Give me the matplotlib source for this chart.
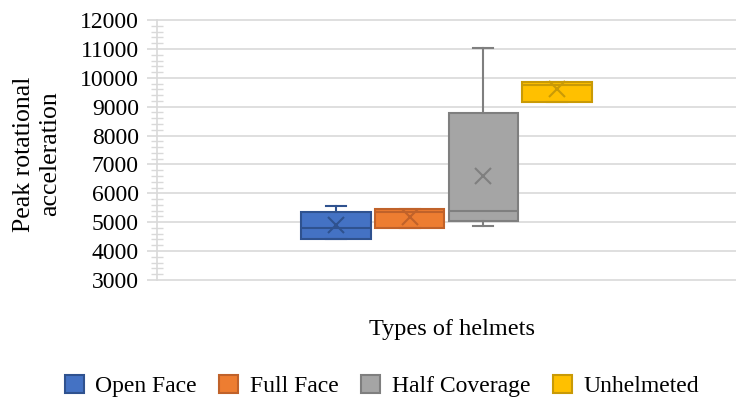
import matplotlib
matplotlib.use("Agg")
import matplotlib.pyplot as plt
from matplotlib.patches import Patch
from matplotlib.ticker import MultipleLocator

plt.rcParams["font.family"] = ["Liberation Serif", "DejaVu Serif"]

# summary statistics per helmet type
helmets = ["Open Face", "Full Face", "Half Coverage", "Unhelmeted"]
q1 = [4420, 4800, 5055, 9165]
medians = [4810, 5355, 5390, 9750]
q3 = [5365, 5470, 8770, 9845]
whisker_low = [4410, 4800, 4870, 9165]
whisker_high = [5565, 5470, 11030, 9845]
means = [4895, 5195, 6610, 9600]

face_colors = ["#4472C4", "#ED7D31", "#A5A5A5", "#FFC000"]
edge_colors = ["#2F528F", "#C0622A", "#7F7F7F", "#C99A06"]

fig = plt.figure(figsize=(7.36, 4), dpi=100)
ax = fig.add_axes([157 / 736, 1 - 281 / 400, (736 - 157) / 736, 262 / 400])

positions = [0.5 + (i - 1.5) * 0.127 for i in range(len(helmets))]

for i, name in enumerate(helmets):
    stats = [{
        "med": medians[i], "q1": q1[i], "q3": q3[i],
        "whislo": whisker_low[i], "whishi": whisker_high[i],
        "mean": means[i], "fliers": [], "label": name,
    }]
    ec = edge_colors[i]
    ax.bxp(stats, positions=[positions[i]], widths=0.12, patch_artist=True,
           showmeans=True, manage_ticks=False,
           boxprops=dict(facecolor=face_colors[i], edgecolor=ec, linewidth=1.5),
           medianprops=dict(color=ec, linewidth=1.5),
           whiskerprops=dict(color=ec, linewidth=1.5),
           capprops=dict(color=ec, linewidth=1.5),
           capwidths=0.035,
           meanprops=dict(marker="x", markersize=12, markeredgecolor=ec,
                          markeredgewidth=1.5),
           zorder=3)

ax.set_xlim(0, 1)
ax.set_ylim(2960, 12040)
ax.yaxis.set_major_locator(MultipleLocator(1000))
ax.yaxis.set_minor_locator(MultipleLocator(200))
ax.set_xticks([])
ax.grid(axis="y", which="major", color="#D9D9D9", linewidth=1.2, zorder=0)

for side in ["top", "right", "bottom"]:
    ax.spines[side].set_visible(False)
ax.spines["left"].set_color("#D9D9D9")
ax.spines["left"].set_linewidth(1.2)
ax.spines["left"].set_bounds(3000, 12000)
ax.tick_params(axis="y", which="major", direction="out", length=7,
               color="#D9D9D9", width=1.2, labelsize=17, pad=6)
ax.tick_params(axis="y", which="minor", direction="inout", length=8,
               color="#D9D9D9", width=1.0)

fig.text(37 / 736, 1 - 154 / 400, "Peak rotational\nacceleration",
         rotation=90, ha="center", va="center", fontsize=18.5, linespacing=1.2)
fig.text(452 / 736, 1 - 330 / 400, "Types of helmets", ha="center",
         va="center", fontsize=17.5)

handles = [Patch(facecolor=fc, edgecolor=ec, linewidth=1.5)
           for fc, ec in zip(face_colors, edge_colors)]
fig.legend(handles, helmets, loc="center", bbox_to_anchor=(382 / 736, 1 - 386 / 400),
           ncol=4, frameon=False, fontsize=17, handlelength=0.8, handleheight=0.8,
           handletextpad=0.5, columnspacing=0.95)

fig.savefig("out.png", dpi=100)
